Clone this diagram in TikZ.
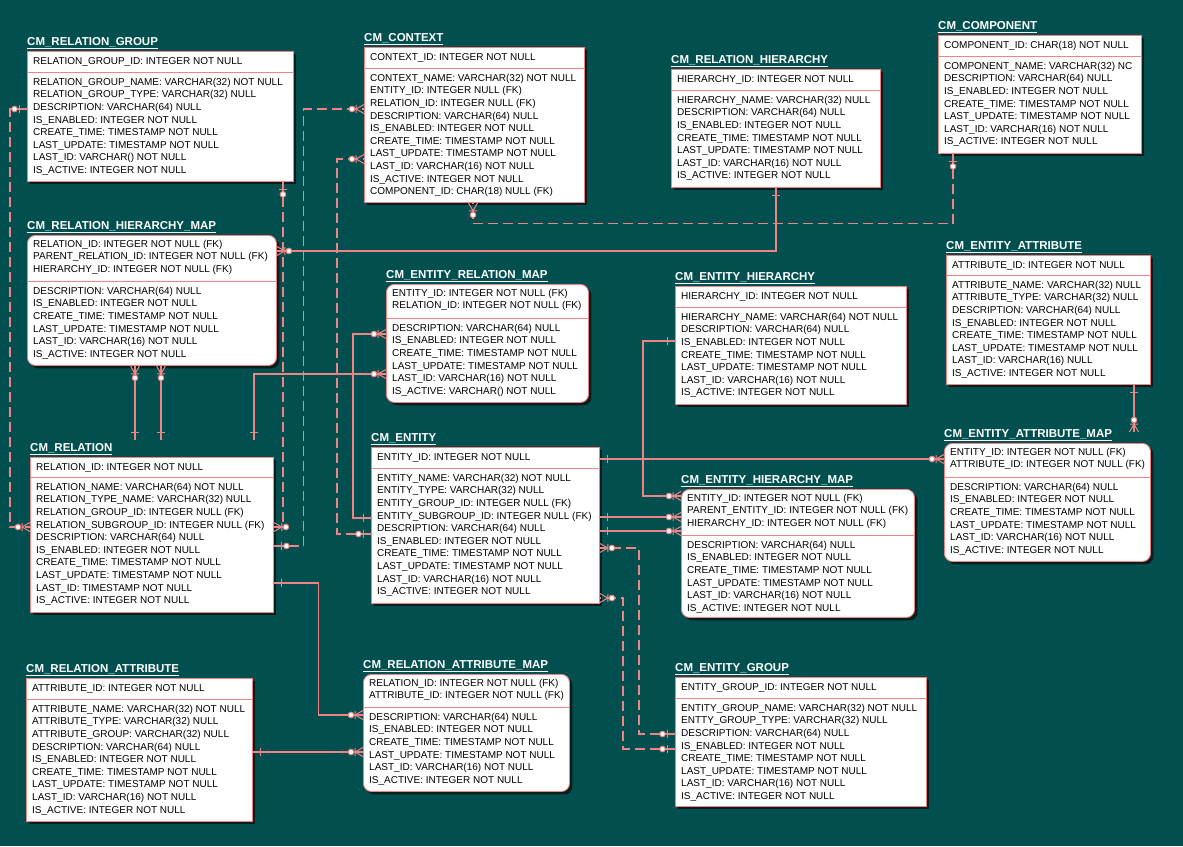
\documentclass[tikz,border=0pt]{standalone}
\usepackage{fontspec}
\setmainfont{Liberation Sans}
\usepackage{tikz}
\usetikzlibrary{calc, shadows, decorations.markings}

\definecolor{erbg}{RGB}{1,79,79}
\definecolor{erline}{RGB}{238,132,132}
\definecolor{ershadow}{RGB}{14,24,24}

% table: style, name, top-left, width, height, key height, title, keys, attributes
\newcommand{\ertable}[9]{%
  \node[#1, minimum width=#4, minimum height=#5] (#2) at (#3) {};
  \node[tabname] (#2-name) at ($(#2.north west)+(0,-2)$) {\underline{#7}};
  \draw[rowsep] ($(#2.north west)+(0,#6)$) -- ($(#2.north east)+(0,#6)$);
  \node[cols] (#2-keys) at ($(#2.north west)+(6,4.8)$) {#8};
  \node[cols] (#2-attrs) at ($(#2.north west)+(6,#6+5.8)$) {#9};
}

\begin{document}
\begin{tikzpicture}[
    x=1pt, y=-1pt,
    ertab/.style={draw=erline, fill=white, line width=0.9pt, anchor=north west,
                  inner sep=0pt, drop shadow={shadow xshift=3pt, shadow yshift=-3pt,
                  fill=ershadow, opacity=0.9}},
    entity/.style={ertab},
    depent/.style={ertab, rounded corners=8pt},
    tabname/.style={anchor=south west, inner sep=0pt, text=white,
                    font=\bfseries\fontsize{11.5}{13}\selectfont},
    rowsep/.style={draw=erline, line width=0.9pt},
    cols/.style={anchor=north west, inner sep=0pt, align=left,
                 font=\fontsize{10}{12.6}\selectfont, execute at begin node=\strut},
    link/.style={draw=erline, line width=1.1pt},
    nonid/.style={link, dash pattern=on 10pt off 5pt},
    mk/.style={solid, draw=erline, line width=1pt},
    pone/.style={postaction={decorate, decoration={markings,
        mark=at position 8pt with {\draw[mk] (0,-4pt) -- (0,4pt);}}}},
    pzero/.style={postaction={decorate, decoration={markings,
        mark=at position 8pt with {\draw[mk] (0,-4pt) -- (0,4pt);},
        mark=at position 12.5pt with {\draw[mk, fill=white] (0,0) circle (2.8pt);}}}},
    cmany/.style={postaction={decorate, decoration={markings,
        mark=at position 1 with {\draw[mk] (-8pt,0) -- (0,4.5pt) (-8pt,0) -- (0,-4.5pt)
          (-8pt,-4pt) -- (-8pt,4pt); \draw[mk, fill=white] (-12pt,0) circle (2.8pt);}}}},
  ]

  \fill[erbg, use as bounding box] (0,0) rectangle (1183,846);

  % Tables
  \ertable{entity}{rg}{27,51}{266}{130}{21}{CM\_RELATION\_GROUP}
    {RELATION\_GROUP\_ID: INTEGER NOT NULL}
    {RELATION\_GROUP\_NAME: VARCHAR(32) NOT NULL\\RELATION\_GROUP\_TYPE: VARCHAR(32) NULL\\
     DESCRIPTION: VARCHAR(64) NULL\\IS\_ENABLED: INTEGER NOT NULL\\CREATE\_TIME: TIMESTAMP NOT NULL\\
     LAST\_UPDATE: TIMESTAMP NOT NULL\\LAST\_ID: VARCHAR() NOT NULL\\IS\_ACTIVE: INTEGER NOT NULL}

  \ertable{entity}{ctx}{364,47}{220}{155}{21}{CM\_CONTEXT}
    {CONTEXT\_ID: INTEGER NOT NULL}
    {CONTEXT\_NAME: VARCHAR(32) NOT NULL\\ENTITY\_ID: INTEGER NULL (FK)\\RELATION\_ID: INTEGER NULL (FK)\\
     DESCRIPTION: VARCHAR(64) NULL\\IS\_ENABLED: INTEGER NOT NULL\\CREATE\_TIME: TIMESTAMP NOT NULL\\
     LAST\_UPDATE: TIMESTAMP NOT NULL\\LAST\_ID: VARCHAR(16) NOT NULL\\IS\_ACTIVE: INTEGER NOT NULL\\
     COMPONENT\_ID: CHAR(18) NULL (FK)}

  \ertable{entity}{rh}{671,69}{209}{118}{21}{CM\_RELATION\_HIERARCHY}
    {HIERARCHY\_ID: INTEGER NOT NULL}
    {HIERARCHY\_NAME: VARCHAR(32) NULL\\DESCRIPTION: VARCHAR(64) NULL\\IS\_ENABLED: INTEGER NOT NULL\\
     CREATE\_TIME: TIMESTAMP NOT NULL\\LAST\_UPDATE: TIMESTAMP NOT NULL\\LAST\_ID: VARCHAR(16) NOT NULL\\
     IS\_ACTIVE: INTEGER NOT NULL}

  \ertable{entity}{comp}{938,35}{203}{118}{21}{CM\_COMPONENT}
    {COMPONENT\_ID: CHAR(18) NOT NULL}
    {COMPONENT\_NAME: VARCHAR(32) NC\\DESCRIPTION: VARCHAR(64) NULL\\IS\_ENABLED: INTEGER NOT NULL\\
     CREATE\_TIME: TIMESTAMP NOT NULL\\LAST\_UPDATE: TIMESTAMP NOT NULL\\LAST\_ID: VARCHAR(16) NOT NULL\\
     IS\_ACTIVE: INTEGER NOT NULL}

  \ertable{depent}{rhm}{27,235}{249}{130}{46}{CM\_RELATION\_HIERARCHY\_MAP}
    {RELATION\_ID: INTEGER NOT NULL (FK)\\PARENT\_RELATION\_ID: INTEGER NOT NULL (FK)\\
     HIERARCHY\_ID: INTEGER NOT NULL (FK)}
    {DESCRIPTION: VARCHAR(64) NULL\\IS\_ENABLED: INTEGER NOT NULL\\CREATE\_TIME: TIMESTAMP NOT NULL\\
     LAST\_UPDATE: TIMESTAMP NOT NULL\\LAST\_ID: VARCHAR(16) NOT NULL\\IS\_ACTIVE: INTEGER NOT NULL}

  \ertable{depent}{erm}{386,284}{202}{118}{34}{CM\_ENTITY\_RELATION\_MAP}
    {ENTITY\_ID: INTEGER NOT NULL (FK)\\RELATION\_ID: INTEGER NOT NULL (FK)}
    {DESCRIPTION: VARCHAR(64) NULL\\IS\_ENABLED: INTEGER NOT NULL\\CREATE\_TIME: TIMESTAMP NOT NULL\\
     LAST\_UPDATE: TIMESTAMP NOT NULL\\LAST\_ID: VARCHAR(16) NOT NULL\\IS\_ACTIVE: VARCHAR() NOT NULL}

  \ertable{entity}{eh}{675,286}{231}{118}{21}{CM\_ENTITY\_HIERARCHY}
    {HIERARCHY\_ID: INTEGER NOT NULL}
    {HIERARCHY\_NAME: VARCHAR(64) NOT NULL\\DESCRIPTION: VARCHAR(64) NULL\\IS\_ENABLED: INTEGER NOT NULL\\
     CREATE\_TIME: TIMESTAMP NOT NULL\\LAST\_UPDATE: TIMESTAMP NOT NULL\\LAST\_ID: VARCHAR(16) NOT NULL\\
     IS\_ACTIVE: INTEGER NOT NULL}

  \ertable{entity}{ea}{946,255}{204}{129}{20}{CM\_ENTITY\_ATTRIBUTE}
    {ATTRIBUTE\_ID: INTEGER NOT NULL}
    {ATTRIBUTE\_NAME: VARCHAR(32) NULL\\ATTRIBUTE\_TYPE: VARCHAR(32) NULL\\DESCRIPTION: VARCHAR(64) NULL\\
     IS\_ENABLED: INTEGER NOT NULL\\CREATE\_TIME: TIMESTAMP NOT NULL\\LAST\_UPDATE: TIMESTAMP NOT NULL\\
     LAST\_ID: VARCHAR(16) NULL\\IS\_ACTIVE: INTEGER NOT NULL}

  \ertable{depent}{eam}{944,443}{206}{118}{34}{CM\_ENTITY\_ATTRIBUTE\_MAP}
    {ENTITY\_ID: INTEGER NOT NULL (FK)\\ATTRIBUTE\_ID: INTEGER NOT NULL (FK)}
    {DESCRIPTION: VARCHAR(64) NULL\\IS\_ENABLED: INTEGER NOT NULL\\CREATE\_TIME: TIMESTAMP NOT NULL\\
     LAST\_UPDATE: TIMESTAMP NOT NULL\\LAST\_ID: VARCHAR(16) NOT NULL\\IS\_ACTIVE: INTEGER NOT NULL}

  \ertable{entity}{rel}{30,457}{243}{155}{20}{CM\_RELATION}
    {RELATION\_ID: INTEGER NOT NULL}
    {RELATION\_NAME: VARCHAR(64) NOT NULL\\RELATION\_TYPE\_NAME: VARCHAR(32) NULL\\
     RELATION\_GROUP\_ID: INTEGER NULL (FK)\\RELATION\_SUBGROUP\_ID: INTEGER NULL (FK)\\
     DESCRIPTION: VARCHAR(64) NULL\\IS\_ENABLED: INTEGER NOT NULL\\CREATE\_TIME: TIMESTAMP NOT NULL\\
     LAST\_UPDATE: TIMESTAMP NOT NULL\\LAST\_ID: TIMESTAMP NOT NULL\\IS\_ACTIVE: INTEGER NOT NULL}

  \ertable{entity}{ent}{371,447}{228}{156}{21}{CM\_ENTITY}
    {ENTITY\_ID: INTEGER NOT NULL}
    {ENTITY\_NAME: VARCHAR(32) NOT NULL\\ENTITY\_TYPE: VARCHAR(32) NULL\\ENTITY\_GROUP\_ID: INTEGER NULL (FK)\\
     ENTITY\_SUBGROUP\_ID: INTEGER NULL (FK)\\DESCRIPTION: VARCHAR(64) NULL\\IS\_ENABLED: INTEGER NOT NULL\\
     CREATE\_TIME: TIMESTAMP NOT NULL\\LAST\_UPDATE: TIMESTAMP NOT NULL\\LAST\_ID: VARCHAR(16) NOT NULL\\
     IS\_ACTIVE: INTEGER NOT NULL}

  \ertable{depent}{ehm}{681,489}{233}{128}{46}{CM\_ENTITY\_HIERARCHY\_MAP}
    {ENTITY\_ID: INTEGER NOT NULL (FK)\\PARENT\_ENTITY\_ID: INTEGER NOT NULL (FK)\\
     HIERARCHY\_ID: INTEGER NOT NULL (FK)}
    {DESCRIPTION: VARCHAR(64) NULL\\IS\_ENABLED: INTEGER NOT NULL\\CREATE\_TIME: TIMESTAMP NOT NULL\\
     LAST\_UPDATE: TIMESTAMP NOT NULL\\LAST\_ID: VARCHAR(16) NOT NULL\\IS\_ACTIVE: INTEGER NOT NULL}

  \ertable{entity}{ra}{26,678}{226}{143}{21}{CM\_RELATION\_ATTRIBUTE}
    {ATTRIBUTE\_ID: INTEGER NOT NULL}
    {ATTRIBUTE\_NAME: VARCHAR(32) NOT NULL\\ATTRIBUTE\_TYPE: VARCHAR(32) NULL\\
     ATTRIBUTE\_GROUP: VARCHAR(32) NULL\\DESCRIPTION: VARCHAR(64) NULL\\IS\_ENABLED: INTEGER NOT NULL\\
     CREATE\_TIME: TIMESTAMP NOT NULL\\LAST\_UPDATE: TIMESTAMP NOT NULL\\LAST\_ID: VARCHAR(16) NOT NULL\\
     IS\_ACTIVE: INTEGER NOT NULL}

  \ertable{depent}{ram}{363,674}{206}{117}{33}{CM\_RELATION\_ATTRIBUTE\_MAP}
    {RELATION\_ID: INTEGER NOT NULL (FK)\\ATTRIBUTE\_ID: INTEGER NOT NULL (FK)}
    {DESCRIPTION: VARCHAR(64) NULL\\IS\_ENABLED: INTEGER NOT NULL\\CREATE\_TIME: TIMESTAMP NOT NULL\\
     LAST\_UPDATE: TIMESTAMP NOT NULL\\LAST\_ID: VARCHAR(16) NOT NULL\\IS\_ACTIVE: INTEGER NOT NULL}

  \ertable{entity}{eg}{675,677}{251}{129}{21}{CM\_ENTITY\_GROUP}
    {ENTITY\_GROUP\_ID: INTEGER NOT NULL}
    {ENTITY\_GROUP\_NAME: VARCHAR(32) NOT NULL\\ENTTY\_GROUP\_TYPE: VARCHAR(32) NULL\\
     DESCRIPTION: VARCHAR(64) NULL\\IS\_ENABLED: INTEGER NOT NULL\\CREATE\_TIME: TIMESTAMP NOT NULL\\
     LAST\_UPDATE: TIMESTAMP NOT NULL\\LAST\_ID: VARCHAR(16) NOT NULL\\IS\_ACTIVE: INTEGER NOT NULL}

  % Relationships, parent -> child
  \draw[nonid, pzero, cmany] ($(rg.north west)+(0,58)$) -| ($(rel.north west)+(-20,70)$) -- ($(rel.north west)+(0,70)$);
  \draw[nonid, pzero, cmany] ($(rg.south west)+(256,0)$) |- ($(rel.north east)+(0,70)$);
  \draw[nonid, pzero, cmany] ($(rel.north east)+(0,89)$) -- ++(30,0) |- ($(ctx.north west)+(0,62)$);
  \draw[nonid, pzero, cmany] ($(ent.north west)+(0,87)$) -- ++(-34,0) |- ($(ctx.north west)+(0,112)$);
  \draw[nonid, pzero, cmany] ($(comp.south west)+(15,0)$) |- ($(ctx.south west)+(109,21)$) -- ($(ctx.south west)+(109,0)$);
  \draw[link, pone, cmany] ($(rh.south west)+(105,0)$) |- ($(rhm.north east)+(0,16)$);
  \draw[link, pone, cmany] ($(rel.north west)+(105,-17)$) -- ($(rhm.south west)+(108,0)$);
  \draw[link, pone, cmany] ($(rel.north west)+(131,-17)$) -- ($(rhm.south west)+(134,0)$);
  \draw[link, pone, cmany] ($(rel.north west)+(224,-17)$) |- ($(erm.north west)+(0,90)$);
  \draw[link, pone, cmany] ($(ent.north west)+(0,71)$) -- ++(-18,0) |- ($(erm.north west)+(0,50)$);
  \draw[link, pone, cmany] ($(eh.north west)+(0,55)$) -- ++(-32,0) |- ($(ehm.north west)+(0,7)$);
  \draw[link, pone, cmany] ($(ent.north east)+(0,70)$) -- ($(ehm.north west)+(0,28)$);
  \draw[link, pone, cmany] ($(ent.north east)+(0,84)$) -- ($(ehm.north west)+(0,42)$);
  \draw[link, pone, cmany] ($(ent.north east)+(0,12)$) -- ($(eam.north west)+(0,16)$);
  \draw[link, pone, cmany] ($(ea.south west)+(188,0)$) -- ($(eam.north west)+(190,-11)$);
  \draw[nonid, pzero, cmany] ($(eg.north west)+(0,57)$) -- ++(-36,0) |- ($(ent.north east)+(0,101)$);
  \draw[nonid, pzero, cmany] ($(eg.north west)+(0,72)$) -- ++(-52,0) |- ($(ent.north east)+(0,151)$);
  \draw[link, pone, cmany] ($(rel.north east)+(0,126)$) -- ++(45,0) |- ($(ram.north west)+(0,41)$);
  \draw[link, pone, cmany] ($(ra.north east)+(0,74)$) -- ($(ram.north west)+(0,78)$);
\end{tikzpicture}
\end{document}
